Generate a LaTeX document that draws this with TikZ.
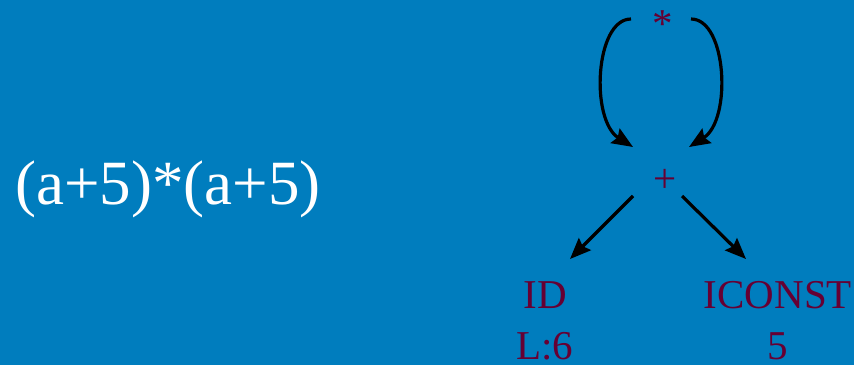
\documentclass[tikz,border=0pt]{standalone}
\usepackage{fontspec}
\setmainfont{Liberation Serif}
\usepackage{xcolor}
\usetikzlibrary{arrows.meta, positioning}

\definecolor{slideblue}{RGB}{0,125,190}
\definecolor{termred}{RGB}{102,0,51}

\begin{document}
\begin{tikzpicture}[
      x=1pt, y=1pt,
      >={Stealth[length=21pt, width=17pt, inset=3pt]},
      expr/.style={inner sep=0pt, text=white, font=\fontsize{63}{70}\selectfont},
      term/.style={inner sep=0pt, align=center, text=termred, font=\fontsize{41}{51}\selectfont},
      a/.style={->, line width=3.2pt, draw=black}
    ]

    % ---- fundo ----
    \fill[slideblue] (0,0) rectangle (854,365);
    \useasboundingbox (0,0) rectangle (854,365);

    % ---- expressao ----
    \node[expr, anchor=base] (src) at (168,161) {(a+5)*(a+5)};

    % ---- arvore ----
    \node[term, anchor=base]  (mul)    at (663,327) {*};
    \node[term, anchor=base]  (plus)   at (665,173) {+};
    \node[term, anchor=north] (id)     at (545,84)  {ID\\L:6};
    \node[term, anchor=north] (iconst) at (778,84)  {ICONST\\5};

    % os dois filhos de * apontam para o mesmo no +
    \draw[a] ([shift={(-32,19)}]mul.base) .. controls +(-36,0) and +(-43,27) .. ([shift={(-32,45)}]plus.base);
    \draw[a] ([shift={(28,19)}]mul.base) .. controls +(36,0) and +(43,27) .. ([shift={(24,45)}]plus.base);

    \draw[a] ([shift={(-32,-4)}]plus.base) -- ([shift={(25,22)}]id.north);
    \draw[a] ([shift={(17,-4)}]plus.base) -- ([shift={(-32,22)}]iconst.north);

    \end{tikzpicture}
\end{document}
